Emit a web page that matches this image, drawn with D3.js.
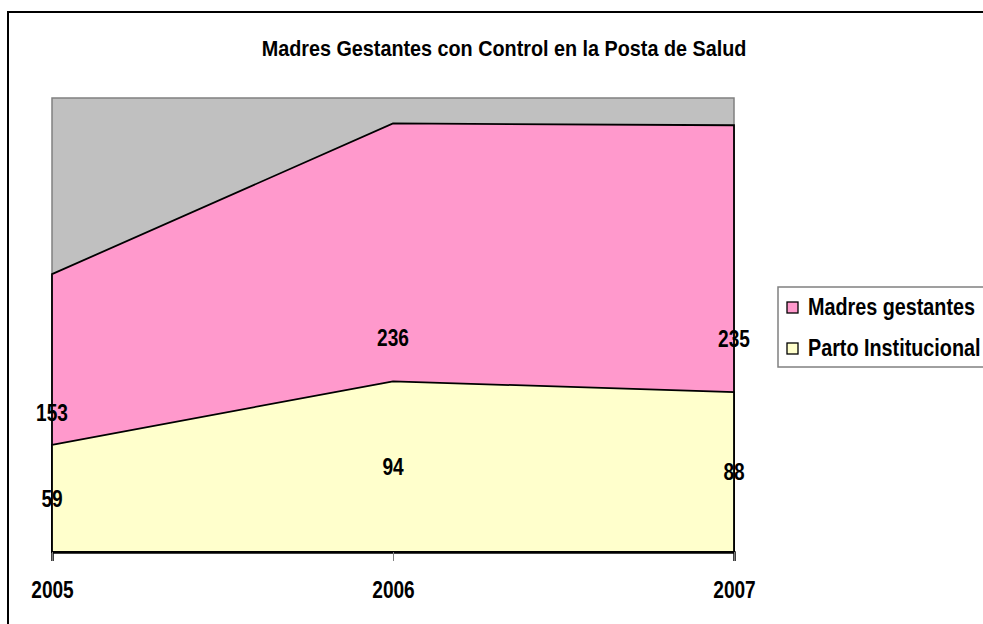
<!DOCTYPE html>
<html>
<head>
<meta charset="utf-8">
<script src="https://cdn.jsdelivr.net/npm/d3@7"></script>
<style>
  html, body { margin: 0; padding: 0; background: #fff; }
  svg { display: block; }
  text { font-family: 'Liberation Sans', Arial, sans-serif; font-weight: bold; fill: #000; }
</style>
</head>
<body>
<div id="chart"></div>
<script>
// data
var years = ["2005", "2006", "2007"];
var madres = [153, 236, 235];
var parto = [59, 94, 88];
var seriesNames = ["Madres gestantes", "Parto Institucional"];
var seriesColors = ["#FF99CC", "#FFFFCC"];
var yMax = 250;

var width = 983, height = 624;
var plot = { left: 52, right: 734, top: 98, bottom: 552 };
var narrow = 0.83; // squeeze Liberation Sans to look like Arial Narrow

var svg = d3.select("#chart").append("svg")
  .attr("width", width)
  .attr("height", height);

// outer chart frame (runs off the page right and bottom)
svg.append("rect")
  .attr("x", 8).attr("y", 12)
  .attr("width", 1000).attr("height", 700)
  .attr("fill", "#fff")
  .attr("stroke", "#000")
  .attr("stroke-width", 2);

svg.append("text")
  .attr("transform", "translate(504,56) scale(0.9,1)")
  .attr("text-anchor", "middle")
  .style("font-size", "22px")
  .text("Madres Gestantes con Control en la Posta de Salud");

var x = d3.scalePoint().domain(years).range([plot.left, plot.right]);
var y = d3.scaleLinear().domain([0, yMax]).range([plot.bottom, plot.top]);

// plot background
svg.append("rect")
  .attr("x", plot.left).attr("y", plot.top)
  .attr("width", plot.right - plot.left)
  .attr("height", plot.bottom - plot.top)
  .attr("fill", "#C0C0C0")
  .attr("stroke", "#808080")
  .attr("stroke-width", 1.5);

var area = d3.area()
  .x(d => x(d.year))
  .y0(y(0))
  .y1(d => y(d.value));

var series = [madres, parto].map((vals, i) => ({
  name: seriesNames[i],
  color: seriesColors[i],
  values: years.map((yr, j) => ({ year: yr, value: vals[j] }))
}));

svg.selectAll(".area")
  .data(series)
  .enter().append("path")
  .attr("class", "area")
  .attr("d", d => area(d.values))
  .attr("fill", d => d.color)
  .attr("stroke", "#000")
  .attr("stroke-width", 1.8);

// x axis
var xAxis = svg.append("g")
  .attr("transform", "translate(0," + plot.bottom + ")")
  .call(d3.axisBottom(x).tickSize(9).tickPadding(20));
xAxis.attr("font-family", null).attr("font-size", null);
xAxis.select(".domain").attr("stroke", "#000").attr("stroke-width", 2.5);
xAxis.selectAll(".tick line").attr("stroke", "#808080");
xAxis.selectAll(".tick text")
  .style("font-size", "23px")
  .attr("dy", "0.72em")
  .attr("transform", "scale(" + narrow + ",1)");

// data labels at half height of each value
series.forEach(s => {
  svg.selectAll(null)
    .data(s.values)
    .enter().append("text")
    .attr("transform", d => "translate(" + x(d.year) + "," + y(d.value / 2) + ") scale(" + narrow + ",1)")
    .attr("dy", "0.36em")
    .attr("text-anchor", "middle")
    .style("font-size", "23px")
    .text(d => d.value);
});

// legend
var legend = svg.append("g").attr("transform", "translate(778,287)");
legend.append("rect")
  .attr("width", 220).attr("height", 80)
  .attr("fill", "#fff")
  .attr("stroke", "#808080")
  .attr("stroke-width", 1.5);
var items = legend.selectAll(".item")
  .data(series)
  .enter().append("g")
  .attr("transform", (d, i) => "translate(0," + (20 + i * 41) + ")");
items.append("rect")
  .attr("x", 9).attr("y", -5)
  .attr("width", 11).attr("height", 11)
  .attr("fill", d => d.color)
  .attr("stroke", "#000")
  .attr("stroke-width", 1.3);
items.append("text")
  .attr("transform", "translate(30,0) scale(0.86,1)")
  .attr("dy", "0.36em")
  .style("font-size", "23px")
  .text(d => d.name);
</script>
</body>
</html>
